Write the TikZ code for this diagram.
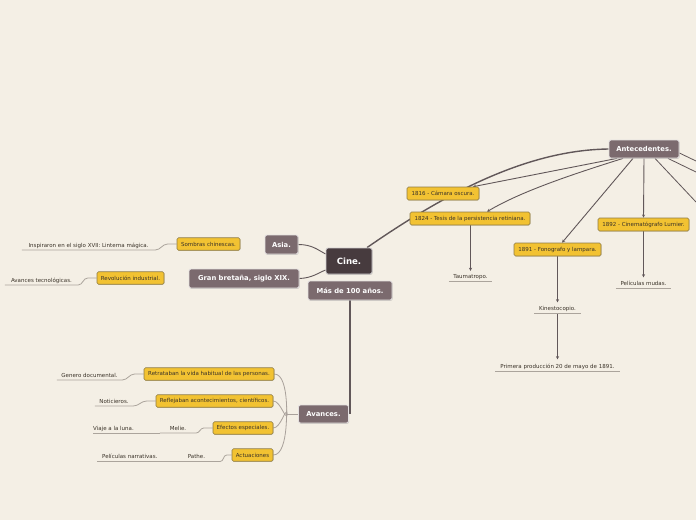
\documentclass[tikz,border=0pt]{standalone}
\usepackage{fontspec}
\setmainfont{DejaVu Sans}
\usetikzlibrary{shadows,arrows.meta,backgrounds}
\definecolor{bg}{HTML}{F4EFE5}
\definecolor{darkc}{HTML}{473B3E}
\definecolor{mauve}{HTML}{7B6A6E}
\definecolor{yel}{HTML}{F2C232}
\definecolor{yelb}{HTML}{8E7B44}
\definecolor{lnc}{HTML}{615759}
\definecolor{ulc}{HTML}{ABA49C}
\definecolor{fanc}{HTML}{A9A19B}
\definecolor{txtc}{HTML}{3A3228}
\begin{document}
\begin{tikzpicture}[x=1pt,y=-1pt,
  mainbox/.style={draw=white!80!mauve, line width=0.8pt, rounded corners=2pt, fill=mauve,
    text=white, font=\fontsize{6.8}{8}\selectfont\bfseries, inner xsep=2pt, inner ysep=0pt,
    minimum height=19pt, drop shadow={shadow xshift=0.6pt, shadow yshift=-0.8pt, opacity=0.35}},
  cinebox/.style={mainbox, fill=darkc, draw=white!75!darkc, font=\fontsize{8.6}{10}\selectfont\bfseries,
    minimum width=46pt, minimum height=26pt},
  yelbox/.style={draw=yelb, line width=0.6pt, rounded corners=1.5pt, fill=yel, text=txtc,
    font=\fontsize{5.5}{6.5}\selectfont, inner xsep=2pt, inner ysep=0pt, minimum height=12.5pt,
    drop shadow={shadow xshift=0.5pt, shadow yshift=-0.6pt, opacity=0.3}},
  plain/.style={font=\fontsize{5.5}{6.5}\selectfont, text=txtc, inner xsep=0pt, inner ysep=1.5pt,
    text height=4pt, text depth=1.2pt},
  thickln/.style={draw=lnc, line width=1.4pt},
  midln/.style={draw=lnc, line width=0.9pt},
  arr/.style={draw=lnc, line width=0.9pt, -{Stealth[length=3.2pt,width=3pt]}},
  uline/.style={draw=ulc, line width=0.8pt},
  fanln/.style={draw=fanc, line width=0.8pt}
]
\useasboundingbox (0,0) rectangle (696,520);
\begin{scope}[on background layer]
\fill[bg] (0,0) rectangle (696,520);
\end{scope}

% main nodes
\node[cinebox] (cine) at (349,261) {Cine.};
\node[mainbox, minimum width=84pt] (mas) at (350,290.5) {Más de 100 años.};
\node[mainbox, minimum width=33pt] (asia) at (281.5,244.5) {Asia.};
\node[mainbox, minimum width=110pt] (gran) at (244,278.5) {Gran bretaña, siglo XIX.};
\node[mainbox, minimum width=70pt, minimum height=18pt] (ante) at (644,149) {Antecedentes.};
\node[mainbox, minimum width=50pt, minimum height=18pt] (avan) at (323.5,414) {Avances.};

% yellow nodes
\node[yelbox, minimum width=63pt] (sombras) at (208.5,244) {Sombras chinescas.};
\node[yelbox, minimum width=67pt] (revol) at (130.5,278) {Revolución industrial.};
\node[yelbox, minimum width=72pt, minimum height=13pt] (c1816) at (443,193.5) {1816 - Cámara oscura.};
\node[yelbox, minimum width=120pt, minimum height=13pt] (c1824) at (470,218.5) {1824 - Tesis de la persistencia retiniana.};
\node[yelbox, minimum width=87pt, minimum height=13pt] (c1891) at (557.5,249.5) {1891 - Fonografo y lampara.};
\node[yelbox, minimum width=91pt, minimum height=13pt] (c1892) at (643.5,224.5) {1892 - Cinematógrafo Lumier.};
\node[yelbox, minimum width=130pt] (retr) at (209,374) {Retrataban la vida habitual de las personas.};
\node[yelbox, minimum width=117pt] (refl) at (214.5,401) {Reflejaban acontecimientos, científicos.};
\node[yelbox, minimum width=60pt] (efec) at (243,428) {Efectos especiales.};
\node[yelbox, minimum width=41pt] (actu) at (252.5,455) {Actuaciones};

% plain text nodes (south edge = underline)
\node[plain, anchor=south, minimum width=133pt] (insp) at (88.5,250) {Inspiraron en el siglo XVII: Linterna mágica.};
\node[plain, anchor=south, minimum width=73pt] (avtec) at (41.5,285) {Avances tecnológicas.};
\node[plain, anchor=south, minimum width=43pt] (taum) at (470.5,281) {Taumatropo.};
\node[plain, anchor=south, minimum width=55pt] (pmud) at (643.5,288) {Películas mudas.};
\node[plain, anchor=south, minimum width=46pt] (kine) at (557.5,313) {Kinestocopio.};
\node[plain, anchor=south, minimum width=124pt] (prim) at (557.5,371) {Primera producción 20 de mayo de 1891.};
\node[plain, anchor=south, minimum width=65pt] (gen) at (89.5,380) {Genero documental.};
\node[plain, anchor=south, minimum width=38pt] (noti) at (114,406) {Noticieros.};
\node[plain, anchor=south, minimum width=36pt] (melie) at (178,433) {Melie.};
\node[plain, anchor=south west] (viaje) at (93,433) {Viaje a la luna.};
\node[plain, anchor=south, minimum width=47pt] (pathe) at (196.5,461.5) {Pathe.};
\node[plain, anchor=south west, inner xsep=5pt] (narr) at (97,461.5) {Películas narrativas.};

\coordinate (o1) at (696,202);
\coordinate (o2) at (696,172);
\coordinate (o3) at (696,161);
\coordinate (fj) at (287,414);

\begin{scope}[on background layer]
% from Cine
\draw[thickln] ([xshift=18pt]cine.north) .. controls (450,190) and (530,150) .. (ante.west);
\draw[midln] (asia.east) .. controls (312,244.5) and (318,250) .. ([yshift=7pt]cine.west);
\draw[midln] (gran.east) .. controls (312,278) and (318,273) .. ([yshift=-9pt]cine.west);
\draw[thickln] (mas.south) -- (mas.south |- avan.east);
% from Antecedentes
\draw[arr] ([xshift=-27pt]ante.south) -- ([xshift=30pt]c1816.north);
\draw[arr] ([xshift=-21pt]ante.south) .. controls (570,175) and (520,192) .. ([xshift=17pt]c1824.north);
\draw[arr] ([xshift=-11pt]ante.south) -- ([xshift=4.5pt]c1891.north);
\draw[arr] (ante.south) -- (c1892.north);
\draw[midln, line width=0.8pt] ([xshift=11pt]ante.south) -- (o1);
\draw[midln, line width=0.8pt] ([xshift=24pt]ante.south) -- (o2);
\draw[midln, line width=0.8pt] ([yshift=-4pt]ante.east) -- (o3);
% children
\draw[arr] ([xshift=0.5pt]c1824.south) -- ([yshift=1.5pt]taum.north);
\draw[arr] (c1891.south) -- ([yshift=2pt]kine.north);
\draw[arr] (kine.south) -- ([yshift=3pt]prim.north);
\draw[arr] (c1892.south) -- ([yshift=2pt]pmud.north);
% left side underlines
\draw[uline] (sombras.west) -- ++(-9,0) to[out=180,in=0] (insp.south east) -- (insp.south west);
\draw[uline] (revol.west) -- ++(-9,0) to[out=180,in=0] (avtec.south east) -- (avtec.south west);
\draw[uline] (retr.west) -- ++(-9,0) to[out=180,in=0] (gen.south east) -- (gen.south west);
\draw[uline] (refl.west) -- ++(-9,0) to[out=180,in=0] (noti.south east) -- (noti.south west);
\draw[uline] (efec.west) -- ++(-9,0) to[out=180,in=0] (melie.south east) -- (melie.south west);
\draw[uline] (melie.south west) -- (viaje.south west);
\draw[uline] (actu.west) -- ++(-5,0) to[out=180,in=0] (pathe.south east) -- (pathe.south west);
\draw[uline] (pathe.south west) -- (narr.south west);
% underlines of arrow children
\draw[uline] (taum.south west) -- (taum.south east);
\draw[uline] (pmud.south west) -- (pmud.south east);
\draw[uline] (kine.south west) -- (kine.south east);
\draw[uline] (prim.south west) -- (prim.south east);
% Avances fan
\draw[fanln] (avan.west) -- (fj);
\draw[fanln] (fj) to[out=-95,in=0] (retr.east);
\draw[fanln] (fj) to[out=-100,in=0] (refl.east);
\draw[fanln] (fj) to[out=100,in=0] (efec.east);
\draw[fanln] (fj) to[out=95,in=0] (actu.east);
\end{scope}
\end{tikzpicture}
\end{document}
